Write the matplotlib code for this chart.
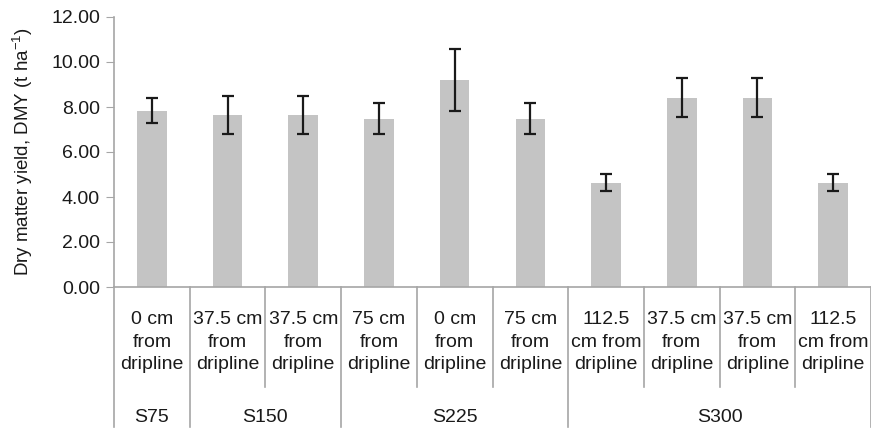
import numpy as np
import matplotlib
matplotlib.use("Agg")
import matplotlib.pyplot as plt

plt.rcParams['font.family'] = ['Liberation Sans', 'DejaVu Sans']
plt.rcParams['mathtext.default'] = 'regular'

# data
categories = ["0 cm\nfrom\ndripline", "37.5 cm\nfrom\ndripline", "37.5 cm\nfrom\ndripline",
              "75 cm\nfrom\ndripline", "0 cm\nfrom\ndripline", "75 cm\nfrom\ndripline",
              "112.5\ncm from\ndripline", "37.5 cm\nfrom\ndripline", "37.5 cm\nfrom\ndripline",
              "112.5\ncm from\ndripline"]
dmy = [7.84, 7.65, 7.65, 7.48, 9.20, 7.48, 4.64, 8.42, 8.42, 4.64]
err = [0.57, 0.86, 0.86, 0.68, 1.38, 0.68, 0.38, 0.88, 0.88, 0.38]
groups = ["S75", "S150", "S225", "S300"]
group_sizes = [1, 2, 3, 4]

W, H = 871, 428
fig = plt.figure(figsize=(W / 100, H / 100), dpi=100)
ax = fig.add_axes([114 / W, (H - 287) / H, (W - 114) / W, 270 / H])

grey = '#a6a6a6'
x = np.arange(len(dmy))
ax.bar(x, dmy, width=0.39, color='#c4c4c4', zorder=2)
ax.errorbar(x, dmy, yerr=err, fmt='none', ecolor='#1a1a1a', elinewidth=1.6,
            capsize=4, capthick=1.6, zorder=3)

ax.set_xlim(-0.5, len(dmy) - 0.5)
ax.set_ylim(0, 12)
ax.set_yticks(np.arange(0, 12.1, 2))
ax.set_yticklabels(["%.2f" % v for v in np.arange(0, 12.1, 2)])
ax.tick_params(axis='y', direction='out', length=6, color=grey, labelsize=14,
               labelcolor='#1a1a1a', pad=4)
ax.set_xticks([])
for s in ['top', 'right']:
    ax.spines[s].set_visible(False)
for s in ['left', 'bottom']:
    ax.spines[s].set_color(grey)
    ax.spines[s].set_linewidth(1.2)

ax.set_ylabel(r'Dry matter yield, DMY (t ha$^{-1}$)', fontsize=13.5,
              color='#1a1a1a', labelpad=12)

# category labels
trans = ax.get_xaxis_transform()
for i, lab in enumerate(categories):
    ax.text(i, -0.204, lab, transform=trans, ha='center', va='center',
            fontsize=14, linespacing=1.45, color='#1a1a1a')

# separators between categories and groups
bounds = np.cumsum([0] + group_sizes) - 0.5
for b in np.arange(-0.5, len(dmy)):
    bottom = -0.52 if b in bounds else -0.37
    ax.plot([b, b], [0, bottom], transform=trans, color=grey, lw=1.2,
            clip_on=False)

# group labels
for g, a, b in zip(groups, bounds[:-1], bounds[1:]):
    ax.text((a + b) / 2, -0.485, g, transform=trans, ha='center', va='center',
            fontsize=14, color='#1a1a1a')

fig.savefig("out.png", dpi=100)
